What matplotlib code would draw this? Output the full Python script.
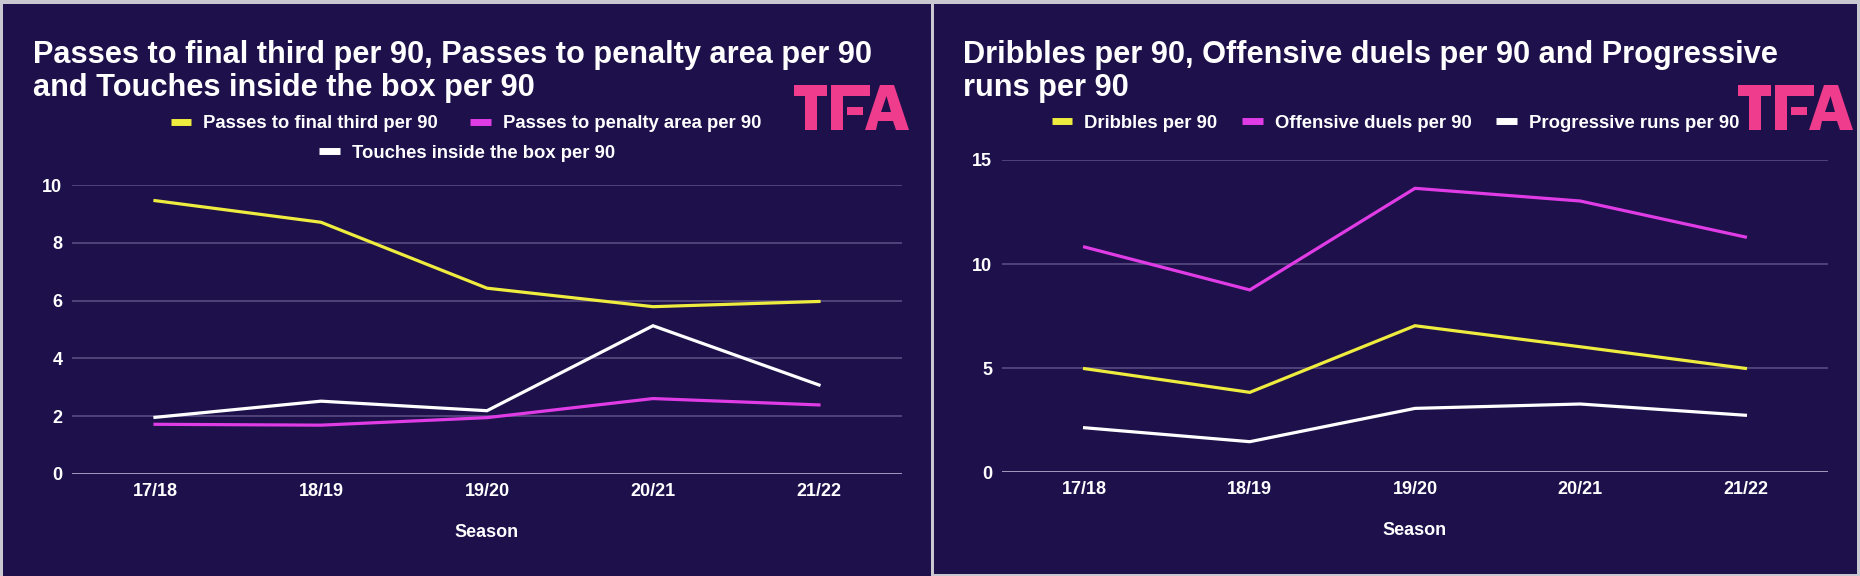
import matplotlib
matplotlib.use('Agg')
import matplotlib.pyplot as plt
from matplotlib.patches import Rectangle, Polygon
from matplotlib.lines import Line2D

# ---------------- data ----------------
seasons = ['17/18', '18/19', '19/20', '20/21', '21/22']

passes_final_third = [9.46, 8.71, 6.43, 5.79, 5.97]
passes_penalty_area = [1.72, 1.69, 1.95, 2.61, 2.39]
touches_box = [1.96, 2.52, 2.19, 5.13, 3.08]

dribbles = [4.98, 3.84, 7.04, 6.03, 4.99]
offensive_duels = [10.82, 8.76, 13.64, 13.03, 11.30]
progressive_runs = [2.14, 1.47, 3.07, 3.28, 2.74]

left_labels = ['Passes to final third per 90', 'Passes to penalty area per 90',
               'Touches inside the box per 90']
right_labels = ['Dribbles per 90', 'Offensive duels per 90', 'Progressive runs per 90']
left_title = 'Passes to final third per 90, Passes to penalty area per 90\nand Touches inside the box per 90'
right_title = 'Dribbles per 90, Offensive duels per 90 and Progressive\nruns per 90'
left_yticks = [0, 2, 4, 6, 8, 10]
right_yticks = [0, 5, 10, 15]
x_label = 'Season'

# ---------------- style ----------------
W, H = 1860, 576
BG = '#1e104b'
FRAME = '#c9c7d0'
YELLOW = '#eeec3e'
MAGENTA = '#e03ce6'
WHITE = '#ffffff'
GRID = '#574b82'
BASE = '#b9b2d2'
PINK = '#f03c8c'
FONT = ['Liberation Sans', 'DejaVu Sans']

plt.rcParams['font.family'] = FONT

fig = plt.figure(figsize=(W / 100, H / 100), dpi=100, facecolor=FRAME)
renderer = fig.canvas.get_renderer()


def fit_size(text, target_px, base=20.0):
    t = fig.text(0, 0, text, fontsize=base, fontweight='bold')
    w = t.get_window_extent(renderer).width
    t.remove()
    return base * target_px / w


TITLE_FS = fit_size('Passes to final third per 90, Passes to penalty area per 90', 840)
LEG_FS = fit_size('Progressive runs per 90', 210)


def fx(x):
    return x / W


def fy(y):
    return 1 - y / H


def rect_px(x0, y0, x1, y1, color, z=-10):
    fig.add_artist(Rectangle((fx(x0), fy(y1)), (x1 - x0) / W, (y1 - y0) / H,
                             transform=fig.transFigure, facecolor=color,
                             edgecolor='none', zorder=z))


# panels
rect_px(3, 4, 931, 576, BG)
rect_px(934, 4, 1857, 574, BG)


def draw_logo(x0, y0):
    parts = [
        [(0, 0), (33, 0), (33, 11), (0, 11)],
        [(11, 11), (23, 11), (23, 45), (11, 45)],
        [(37, 0), (76, 0), (76, 11), (37, 11)],
        [(37, 11), (49, 11), (49, 45), (37, 45)],
        [(53, 22), (69, 22), (69, 30), (53, 30)],
        [(71, 45), (86, 0), (100, 0), (115, 45), (102, 45), (99, 36), (84, 36), (82, 45)],
    ]
    for p in parts:
        fig.add_artist(Polygon([(fx(x0 + a), fy(y0 + b)) for a, b in p],
                               closed=True, transform=fig.transFigure,
                               facecolor=PINK, edgecolor='none', zorder=5))
    hole = [(87, 27), (92.5, 11), (97, 27)]
    fig.add_artist(Polygon([(fx(x0 + a), fy(y0 + b)) for a, b in hole],
                           closed=True, transform=fig.transFigure,
                           facecolor=BG, edgecolor='none', zorder=6))


draw_logo(794, 85)
draw_logo(1738, 85)


def make_axes(box, series, colors, yticks):
    x0, y0, x1, y1 = box
    ax = fig.add_axes([fx(x0), fy(y1), (x1 - x0) / W, (y1 - y0) / H])
    ax.set_facecolor('none')
    xs = list(range(len(seasons)))
    for vals, c in zip(series, colors):
        ax.plot(xs, vals, color=c, lw=2.3, solid_joinstyle='miter', zorder=3)
    ax.set_xlim(-0.5, len(seasons) - 0.5)
    ax.set_ylim(yticks[0], yticks[-1])
    ax.set_yticks(yticks)
    ax.set_xticks(xs)
    ax.set_xticklabels(seasons)
    for s in ax.spines.values():
        s.set_visible(False)
    ax.yaxis.grid(True, color=GRID, lw=1.2)
    ax.set_axisbelow(True)
    ax.axhline(yticks[0], color=BASE, lw=1.8, zorder=2)
    ax.tick_params(axis='both', length=0, colors='white', labelsize=13)
    ax.tick_params(axis='x', pad=6.5)
    ax.tick_params(axis='y', pad=7)
    for lab in ax.get_xticklabels() + ax.get_yticklabels():
        lab.set_fontweight('bold')
    ax.set_xlabel(x_label, color='white', fontsize=13, fontweight='bold', labelpad=17)
    return ax


axL = make_axes((72, 185, 902, 474),
                [passes_final_third, passes_penalty_area, touches_box],
                [YELLOW, MAGENTA, WHITE], left_yticks)
axR = make_axes((1002, 160, 1828, 472.3),
                [dribbles, offensive_duels, progressive_runs],
                [YELLOW, MAGENTA, WHITE], right_yticks)

# titles
fig.text(fx(33), fy(40), left_title, color='white', fontsize=TITLE_FS,
         fontweight='bold', ha='left', va='top', linespacing=1.15)
fig.text(fx(963), fy(40), right_title, color='white', fontsize=TITLE_FS,
         fontweight='bold', ha='left', va='top', linespacing=1.15)


def handle(c):
    return Line2D([], [], color=c, lw=5.0, solid_capstyle='butt')


leg_kw = dict(frameon=False, handlelength=1.1, handletextpad=0.65,
              borderpad=0, borderaxespad=0, loc='center',
              prop={'family': FONT, 'weight': 'bold', 'size': LEG_FS},
              labelcolor='white')

fig.legend([handle(YELLOW), handle(MAGENTA)], left_labels[:2], ncol=2,
           columnspacing=1.75, bbox_to_anchor=(fx(466), fy(124)), **leg_kw)
fig.legend([handle(WHITE)], left_labels[2:], ncol=1,
           bbox_to_anchor=(fx(467), fy(153)), **leg_kw)
fig.legend([handle(YELLOW), handle(MAGENTA), handle(WHITE)], right_labels, ncol=3,
           columnspacing=1.35, bbox_to_anchor=(fx(1395.5), fy(123)), **leg_kw)

fig.savefig('out.png', dpi=100, facecolor=FRAME)
